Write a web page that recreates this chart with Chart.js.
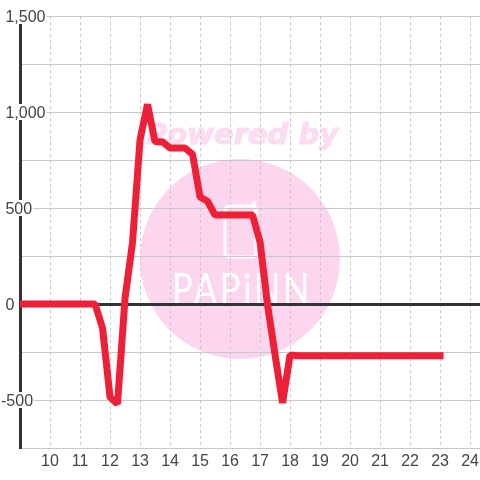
<!DOCTYPE html>
<html>
<head>
<meta charset="utf-8">
<style>
html, body { margin: 0; padding: 0; background: #fff; }
canvas { display: block; }
</style>
<script src="https://cdn.jsdelivr.net/npm/chart.js@4/dist/chart.umd.min.js"></script>
</head>
<body>
<canvas id="myChart" width="480" height="480"></canvas>
<script>
const HOURS = [9, 9.25, 9.5, 9.75, 10, 10.25, 10.5, 10.75, 11, 11.25, 11.5, 11.75, 12, 12.25, 12.5, 12.75,
    13, 13.25, 13.5, 13.75, 14, 14.25, 14.5, 14.75, 15, 15.25, 15.5, 15.75, 16, 16.25, 16.5, 16.75,
    17, 17.25, 17.5, 17.75, 18, 18.25, 18.5, 18.75, 19, 19.25, 19.5, 19.75, 20, 20.25, 20.5, 20.75,
    21, 21.25, 21.5, 21.75, 22, 22.25, 22.5, 22.75, 23];
const VALUES = [0, 0, 0, 0, 0, 0, 0, 0, 0, 0, 0, -125, -485, -520, 30, 320,
    855, 1040, 845, 845, 812, 812, 812, 780, 557, 535, 463, 463, 463, 463, 463, 463,
    322, -5, -265, -515, -265, -270, -270, -270, -270, -270, -270, -270, -270, -270, -270, -270,
    -270, -270, -270, -270, -270, -270, -270, -270, -270];
const X_TICKS = [10, 11, 12, 13, 14, 15, 16, 17, 18, 19, 20, 21, 22, 23, 24];

const FONT = "'Liberation Sans', Arial, sans-serif";

const watermark = { // pink logo sits under the grid
    id: 'watermark',
    beforeDraw(chart) {
        const c = chart.ctx;
        c.save();
        c.fillStyle = '#fbd6ee';
        c.beginPath();
        c.arc(240, 259, 100, 0, Math.PI * 2);
        c.fill();

        c.font = "italic bold 29px 'DejaVu Sans'";
        c.fillStyle = '#fbdcf1';
        c.strokeStyle = '#fbdcf1';
        c.lineWidth = 1.2;
        c.textBaseline = 'alphabetic';
        c.fillText('Powered by', 146, 144);
        c.strokeText('Powered by', 146, 144);

        c.strokeStyle = '#ffffff';
        c.lineWidth = 3;
        c.beginPath();
        c.roundRect(225, 206, 31, 51, 4);
        c.stroke();
        c.beginPath();
        c.moveTo(254.5, 206);
        c.lineTo(254.5, 201);
        c.stroke();

        c.translate(172, 304);
        c.scale(0.8, 1);
        c.fillStyle = '#ffffff';
        c.font = "43px Lato";
        c.letterSpacing = '3.5px';
        c.fillText('PAPiNN', 0, 0);
        c.restore();
    }
};

new Chart(document.getElementById('myChart').getContext('2d'), {
    type: 'line',
    data: {
        datasets: [{
            data: HOURS.map((h, i) => ({ x: h, y: VALUES[i] })),
            borderColor: '#ee2038',
            borderWidth: 7,
            borderCapStyle: 'square',
            borderJoinStyle: 'bevel',
            pointRadius: 0,
            tension: 0,
            fill: false
        }]
    },
    plugins: [watermark],
    options: {
        responsive: false,
        animation: false,
        parsing: false,
        layout: { padding: { top: 16, left: 20 } },
        plugins: { legend: { display: false }, tooltip: { enabled: false } },
        scales: {
            x: {
                type: 'linear',
                min: 9,
                max: 24.33,
                afterBuildTicks(scale) {
                    scale.ticks = X_TICKS.map(v => ({ value: v }));
                },
                afterFit(scale) { // no room reserved for the last label
                    scale.height = 32;
                    scale.paddingLeft = 0;
                    scale.paddingRight = 0;
                },
                grid: { color: '#c8c8c8', lineWidth: 1, drawTicks: false },
                border: { dash: [3, 3], display: false },
                ticks: {
                    autoSkip: false,
                    maxRotation: 0,
                    padding: 4,
                    color: '#444444',
                    font: { family: FONT, size: 16 }
                }
            },
            y: {
                type: 'linear',
                min: -750,
                max: 1500,
                grid: {
                    drawTicks: false,
                    color: (ctx) => ctx.tick && ctx.tick.value === 0 ? '#333333' : '#c8c8c8',
                    lineWidth: (ctx) => ctx.tick && ctx.tick.value === 0 ? 3 : 1
                },
                border: { display: true, color: '#333333', width: 3 },
                afterFit(scale) {
                    scale.width = 0;
                    scale.paddingTop = 0;
                    scale.paddingBottom = 0;
                },
                ticks: {
                    stepSize: 250,
                    mirror: true,
                    padding: -19,
                    color: '#444444',
                    font: { family: FONT, size: 16, lineHeight: 0.25 },
                    showLabelBackdrop: true,
                    backdropColor: '#ffffff',
                    backdropPadding: { top: 2, bottom: 6, left: 0, right: 1 },
                    callback(value) {
                        if (value % 500 !== 0) return '';
                        // empty first line pushes the text down 2px to sit on the gridline
                        return ['', (value < 0 ? '' : ' ') + value.toLocaleString('en-US')];
                    }
                }
            }
        }
    }
});
</script>
</body>
</html>
